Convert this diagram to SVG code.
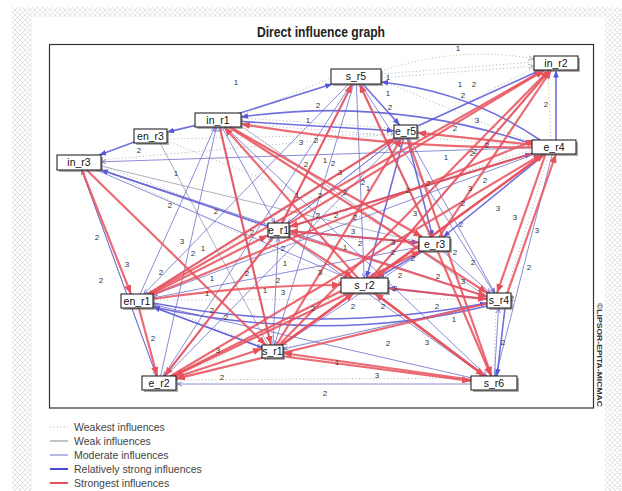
<svg xmlns="http://www.w3.org/2000/svg" width="622" height="491" viewBox="0 0 622 491">
<defs>
<pattern id="chk" width="5" height="5" patternUnits="userSpaceOnUse">
<path d="M0,0 L5,5 M5,0 L0,5" stroke="#d9d9d9" stroke-width="0.7"/>
</pattern>
<marker id="ar" viewBox="0 0 10 10" refX="10" refY="5" markerWidth="9" markerHeight="9" markerUnits="userSpaceOnUse" orient="auto"><path d="M0,1 L10,5 L0,9 z" fill="#e8505a"/></marker>
<marker id="ab" viewBox="0 0 10 10" refX="10" refY="5" markerWidth="7" markerHeight="7" markerUnits="userSpaceOnUse" orient="auto"><path d="M0,1 L10,5 L0,9 z" fill="#5656d8"/></marker>
<marker id="am" viewBox="0 0 10 10" refX="10" refY="5" markerWidth="5" markerHeight="5" markerUnits="userSpaceOnUse" orient="auto"><path d="M0,1 L10,5 L0,9" fill="none" stroke="#6666cc" stroke-width="1.5"/></marker>
<marker id="ad" viewBox="0 0 10 10" refX="10" refY="5" markerWidth="6" markerHeight="6" markerUnits="userSpaceOnUse" orient="auto"><path d="M0,1 L10,5 L0,9" fill="none" stroke="#999" stroke-width="1.2"/></marker>
</defs>
<style>
.d{stroke:#a9a9a9;stroke-width:0.9;stroke-dasharray:1 2.5;fill:none}
.w{stroke:#8c8ca8;stroke-width:0.7;fill:none}
.m{stroke:#6e6ecc;stroke-width:0.8;fill:none;marker-end:url(#am)}
.b{stroke:#5656d8;stroke-width:1.6;fill:none;stroke-opacity:0.85;marker-end:url(#ab)}
.r{stroke:#e8505a;stroke-width:2.2;fill:none;stroke-opacity:0.85;marker-end:url(#ar)}
.lb text{font-family:"Liberation Sans",Arial,sans-serif;font-size:8px;fill:#333;text-anchor:middle}
.node rect.s{fill:#777;opacity:0.6}
.node rect.f{fill:#fff;stroke:#111;stroke-width:1}
.node text{font-family:"Liberation Sans",Arial,sans-serif;font-size:10.5px;fill:#111;text-anchor:middle}
.lg text{font-family:"Liberation Sans",Arial,sans-serif;font-size:10.5px;fill:#444}
</style>
<rect x="0" y="0" width="622" height="491" fill="#fff"/>
<rect x="12" y="7" width="610" height="484" fill="url(#chk)"/>
<rect x="32" y="17" width="573" height="474" fill="#fff"/>
<text x="257" y="37" font-family="Liberation Sans,Arial,sans-serif" font-size="15" font-weight="bold" fill="#222" textLength="128" lengthAdjust="spacingAndGlyphs">Direct influence graph</text>
<rect x="49.5" y="44.5" width="544" height="363.5" fill="#fff" stroke="#333" stroke-width="1.2"/>
<text transform="translate(597,303) rotate(90)" font-family="Liberation Sans,Arial,sans-serif" font-size="8" font-weight="bold" fill="#333" textLength="104" lengthAdjust="spacingAndGlyphs">©LIPSOR-EPITA-MICMAC</text>

<g id="connectors">
<!-- weakest (dotted) -->
<path class="d" d="M381,74 L534,62"/>
<path class="d" d="M381,78 L534,66" marker-end="url(#ad)"/>
<path class="d" d="M381,71 Q460,45 534,59" marker-end="url(#ad)"/>
<path class="d" d="M241,115 L331,78"/>
<path class="d" d="M167,139 L394,134"/>
<path class="d" d="M167,134 L195,125"/>
<path class="d" d="M101,165 L268,228"/>
<path class="d" d="M177,380 L471,378"/>
<path class="d" d="M176,378 L487,304"/>
<path class="d" d="M153,304 L262,346"/>
<path class="d" d="M551,140 L548,70"/>
<path class="d" d="M494,376 L496,308"/>
<path class="d" d="M549,154 L506,293"/>
<path class="d" d="M167,141 L419,240"/>
<path class="d" d="M101,160 L394,134"/>
<path class="d" d="M381,80 L532,143"/>
<path class="d" d="M417,128 L534,68"/>
<path class="d" d="M283,355 L471,381"/>
<path class="d" d="M153,300 L487,299"/>
<path class="d" d="M176,380 L419,249"/>
<path class="d" d="M101,168 L341,282"/>
<path class="d" d="M241,124 L532,146"/>
<path class="d" d="M153,296 L394,137"/>
<path class="d" d="M283,348 L487,304"/>
<path class="d" d="M289,228 L532,150"/>
<path class="d" d="M176,377 L341,290"/>
<path class="d" d="M241,118 L394,128"/>
<path class="d" d="M289,233 L419,245"/>
<!-- weak -->
<path class="w" d="M101,166 L419,242"/>
<path class="w" d="M160,143 L268,345"/>
<path class="w" d="M241,126 L487,297"/>
<!-- moderate -->
<path class="m" d="M137,301 L214.9,127"/>
<path class="m" d="M159,383 L216.4,127"/>
<path class="m" d="M272.5,351.5 L219.6,127"/>
<path class="m" d="M79,162.5 L156.5,376"/>
<path class="m" d="M159,383 L81.7,170"/>
<path class="m" d="M79,162.5 L487,296.6"/>
<path class="m" d="M79,162.5 L347.1,278"/>
<path class="m" d="M554,147 L101,161.8"/>
<path class="m" d="M405.5,131.5 L148.1,294"/>
<path class="m" d="M356,76.5 L143.8,294"/>
<path class="m" d="M356,76.5 L163.5,376"/>
<path class="m" d="M356,76.5 L364.2,278"/>
<path class="m" d="M356,76.5 L274.5,345"/>
<path class="m" d="M356,76.5 L431.2,237"/>
<path class="m" d="M356,76.5 L282,223"/>
<path class="m" d="M218,120 L486.7,376"/>
<path class="m" d="M556,63 L371,278"/>
<path class="m" d="M554,147 L495.8,376"/>
<path class="m" d="M554,147 L153,295.1"/>
<path class="m" d="M434.5,244 L153,297.9"/>
<path class="m" d="M494,383 L153,304.7"/>
<path class="m" d="M405.5,131.5 L494.8,293"/>
<path class="m" d="M356,76.5 L494.2,293"/>
<path class="m" d="M278.5,230 L484.1,376"/>
<path class="m" d="M159,383 L399.1,138"/>
<path class="m" d="M278.5,230 L397.1,138"/>
<path class="m" d="M159,383 L273,237"/>
<path class="m" d="M272.5,351.5 L278.2,237"/>
<path class="m" d="M434.5,244 L490.4,293"/>
<path class="m" d="M434.5,244 L282.3,345"/>
<path class="m" d="M499,300.5 L283,349.1"/>
<path class="m" d="M494,383 L498.5,308"/>
<path class="m" d="M494,384 L177,384"/>
<path class="m" d="M137,301 L262,347.6"/>
<path class="m" d="M218,120 L274.7,223"/>
<path class="m" d="M405.5,131.5 L287.5,223"/>
<!-- relatively strong -->
<path class="b" d="M218,120 L167,132.1"/>
<path class="b" d="M150.5,136 L99.2,155"/>
<path class="b" d="M218,120 L332.2,84"/>
<path class="b" d="M532,144 Q390,96 241,117"/>
<path class="b" d="M540,140 Q470,92 381,82"/>
<path class="b" d="M405.5,131.5 L540.6,70"/>
<path class="b" d="M556,140 L556,70.5"/>
<path class="b" d="M278.5,230 L101,170"/>
<path class="b" d="M153,303 Q320,335 487,303"/>
<path class="b" d="M487,306 Q330,345 153,307"/>
<path class="b" d="M434.5,244 L377,278"/>
<path class="b" d="M405.5,131.5 L432.7,237"/>
<path class="b" d="M554,147 L443.1,237"/>
<path class="b" d="M278.5,230 L532,153.6"/>
<path class="b" d="M356,76.5 L399.7,125"/>
<path class="b" d="M499,300.5 L388,288.1"/>
<path class="b" d="M218,120 L394,130.8"/>
<path class="b" d="M272.5,351.5 L153,307"/>
<path class="b" d="M278.5,230 L419,242.6"/>
<path class="b" d="M405.5,131.5 L366.5,278"/>
<path class="b" d="M505,308 L497,376"/>
<!-- strongest -->
<path class="r" d="M554,147 Q400,150 241,124"/>
<path class="r" d="M554,147 L417,132.7"/>
<path class="r" d="M364.5,285.5 L224.2,127"/>
<path class="r" d="M218,120 L422.3,237"/>
<path class="r" d="M218,120 L487.3,293"/>
<path class="r" d="M218,120 L271,345"/>
<path class="r" d="M79,162.5 L265.8,345"/>
<path class="r" d="M79,162.5 L131,294"/>
<path class="r" d="M137,301 L157.1,376"/>
<path class="r" d="M278.5,230 L544.4,70"/>
<path class="r" d="M364.5,285.5 L550,70"/>
<path class="r" d="M137,301 L535,140"/>
<path class="r" d="M137,301 L543.7,70"/>
<path class="r" d="M272.5,351.5 L549.1,70"/>
<path class="r" d="M434.5,244 L551.3,70"/>
<path class="r" d="M278.5,230 L352.2,84"/>
<path class="r" d="M434.5,244 L359.5,84"/>
<path class="r" d="M434.5,244 L289,231"/>
<path class="r" d="M554,147 L289,226.8"/>
<path class="r" d="M278.5,230 L352.9,278"/>
<path class="r" d="M278.5,230 L487,296.7"/>
<path class="r" d="M364.5,285.5 L487,299.2"/>
<path class="r" d="M548,147 L497,293"/>
<path class="r" d="M505,300 L556,154"/>
<path class="r" d="M364.5,285.5 L173.8,376"/>
<path class="r" d="M278.5,230 L164.5,376"/>
<path class="r" d="M499,300.5 L176,378.9"/>
<path class="r" d="M159,383 L262,348.6"/>
<path class="r" d="M494,383 L283,353"/>
<path class="r" d="M272.5,355 L471,381"/>
<path class="r" d="M364.5,285.5 L484.7,376"/>
<path class="r" d="M434.5,244 L491,376"/>
<path class="r" d="M405.5,131.5 L491.5,376"/>
<path class="r" d="M494,383 L374.5,293"/>
<path class="r" d="M272.5,351.5 L354,293"/>
<path class="r" d="M159,383 L420.6,251"/>
<path class="r" d="M137,301 L268,235.3"/>
<path class="r" d="M153,299 Q250,285 341,285"/>
<path class="r" d="M554,147 L374.8,278"/>
<path class="r" d="M272.5,351.5 L544.4,154"/>
<path class="r" d="M137,301 L395.2,138"/>
<path class="r" d="M272.5,351.5 L401.6,138"/>
<path class="r" d="M159,383 L542.3,154"/>
</g>

<g class="lb">
<text x="458" y="51">1</text><text x="236" y="85">1</text><text x="388" y="80">1</text><text x="460" y="87">1</text><text x="474" y="87">2</text><text x="463" y="98">2</text><text x="388" y="96">1</text><text x="390" y="110">2</text><text x="318" y="108">2</text><text x="308" y="123">1</text><text x="301" y="145">3</text><text x="316" y="143">2</text><text x="546" y="107">2</text><text x="477" y="123">3</text><text x="455" y="131">2</text><text x="487" y="148">2</text><text x="475" y="154">2</text><text x="446" y="160">1</text><text x="139" y="153">2</text><text x="176" y="176">1</text><text x="170" y="208">2</text><text x="216" y="214">2</text><text x="182" y="244">3</text><text x="193" y="256">2</text><text x="203" y="251">1</text><text x="97" y="240">2</text><text x="127" y="267">3</text><text x="101" y="283">2</text><text x="161" y="275">2</text><text x="247" y="276">2</text><text x="212" y="281">1</text><text x="207" y="296">1</text><text x="252" y="235">2</text><text x="283" y="251">2</text><text x="285" y="266">1</text><text x="278" y="283">2</text><text x="283" y="295">3</text><text x="265" y="293">1</text><text x="318" y="218">2</text><text x="355" y="220">2</text><text x="353" y="234">3</text><text x="360" y="246">2</text><text x="345" y="250">1</text><text x="320" y="275">3</text><text x="393" y="245">3</text><text x="393" y="255">2</text><text x="413" y="261">2</text><text x="395" y="291">3</text><text x="400" y="278">2</text><text x="438" y="279">2</text><text x="455" y="255">2</text><text x="463" y="284">3</text><text x="473" y="265">2</text><text x="212" y="313">2</text><text x="226" y="320">2</text><text x="353" y="309">2</text><text x="383" y="309">2</text><text x="313" y="311">2</text><text x="437" y="309">2</text><text x="408" y="193">2</text><text x="415" y="216">3</text><text x="428" y="186">2</text><text x="463" y="206">2</text><text x="363" y="185">2</text><text x="368" y="191">1</text><text x="345" y="195">2</text><text x="320" y="198">2</text><text x="297" y="198">1</text><text x="306" y="167">2</text><text x="325" y="163">1</text><text x="333" y="166">2</text><text x="340" y="175">3</text><text x="336" y="218">2</text><text x="472" y="156">2</text><text x="485" y="183">2</text><text x="470" y="191">3</text><text x="461" y="227">2</text><text x="498" y="211">3</text><text x="515" y="220">3</text><text x="537" y="233">3</text><text x="529" y="270">2</text><text x="153" y="341">2</text><text x="218" y="353">3</text><text x="222" y="380">2</text><text x="337" y="365">1</text><text x="377" y="378">3</text><text x="325" y="396">2</text><text x="388" y="346">2</text><text x="427" y="345">3</text><text x="512" y="301">2</text><text x="503" y="345">2</text><text x="454" y="322">1</text>
</g>

<g id="s_r5" class="node"><rect class="s" x="333" y="71" width="50" height="15"/><rect class="f" x="331" y="69" width="50" height="15"/><text x="356" y="80">s_r5</text></g>
<g id="in_r2" class="node"><rect class="s" x="536" y="58" width="44" height="14"/><rect class="f" x="534" y="56" width="44" height="14"/><text x="556" y="66.5">in_r2</text></g>
<g id="in_r1" class="node"><rect class="s" x="197" y="115" width="46" height="14"/><rect class="f" x="195" y="113" width="46" height="14"/><text x="218" y="123.5">in_r1</text></g>
<g id="en_r3" class="node"><rect class="s" x="136" y="131" width="33" height="14"/><rect class="f" x="134" y="129" width="33" height="14"/><text x="150.5" y="139.5">en_r3</text></g>
<g id="e_r5" class="node"><rect class="s" x="396" y="127" width="23" height="13"/><rect class="f" x="394" y="125" width="23" height="13"/><text x="405.5" y="135">e_r5</text></g>
<g id="e_r4" class="node"><rect class="s" x="534" y="142" width="44" height="14"/><rect class="f" x="532" y="140" width="44" height="14"/><text x="554" y="150.5">e_r4</text></g>
<g id="in_r3" class="node"><rect class="s" x="59" y="157" width="44" height="15"/><rect class="f" x="57" y="155" width="44" height="15"/><text x="79" y="166">in_r3</text></g>
<g id="e_r1" class="node"><rect class="s" x="270" y="225" width="21" height="14"/><rect class="f" x="268" y="223" width="21" height="14"/><text x="278.5" y="233.5">e_r1</text></g>
<g id="e_r3" class="node"><rect class="s" x="421" y="239" width="31" height="14"/><rect class="f" x="419" y="237" width="31" height="14"/><text x="434.5" y="247.5">e_r3</text></g>
<g id="s_r2" class="node"><rect class="s" x="343" y="280" width="47" height="15"/><rect class="f" x="341" y="278" width="47" height="15"/><text x="364.5" y="289">s_r2</text></g>
<g id="s_r4" class="node"><rect class="s" x="489" y="295" width="24" height="15"/><rect class="f" x="487" y="293" width="24" height="15"/><text x="499" y="304">s_r4</text></g>
<g id="en_r1" class="node"><rect class="s" x="123" y="296" width="32" height="14"/><rect class="f" x="121" y="294" width="32" height="14"/><text x="137" y="304.5">en_r1</text></g>
<g id="s_r1" class="node"><rect class="s" x="264" y="347" width="21" height="13"/><rect class="f" x="262" y="345" width="21" height="13"/><text x="272.5" y="355">s_r1</text></g>
<g id="e_r2" class="node"><rect class="s" x="144" y="378" width="34" height="14"/><rect class="f" x="142" y="376" width="34" height="14"/><text x="159" y="386.5">e_r2</text></g>
<g id="s_r6" class="node"><rect class="s" x="473" y="378" width="46" height="14"/><rect class="f" x="471" y="376" width="46" height="14"/><text x="494" y="386.5">s_r6</text></g>

<g id="legend" class="lg">
<line x1="50" y1="427" x2="68" y2="427" stroke="#aaa" stroke-width="1" stroke-dasharray="1 2.5"/>
<line x1="50" y1="441" x2="68" y2="441" stroke="#888" stroke-width="1"/>
<line x1="50" y1="455" x2="68" y2="455" stroke="#6e6ecc" stroke-width="1"/>
<line x1="50" y1="469" x2="68" y2="469" stroke="#4a4ad4" stroke-width="2"/>
<line x1="50" y1="483" x2="68" y2="483" stroke="#e8505a" stroke-width="2"/>
<text x="74" y="430.5">Weakest influences</text>
<text x="74" y="444.5">Weak influences</text>
<text x="74" y="458.5">Moderate influences</text>
<text x="74" y="472.5">Relatively strong influences</text>
<text x="74" y="486.5">Strongest influences</text>
</g>
</svg>
